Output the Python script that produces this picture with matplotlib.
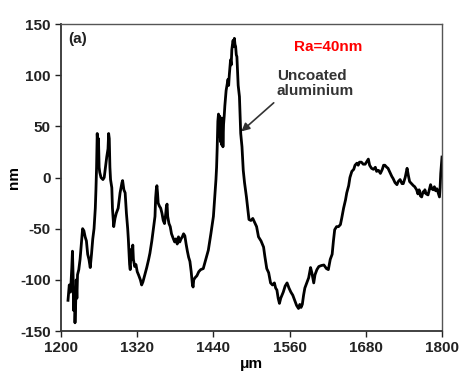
import numpy as np
import matplotlib
matplotlib.use("Agg")
import matplotlib.pyplot as plt

plt.rcParams['font.family'] = ['Liberation Sans', 'DejaVu Sans']
plt.rcParams['font.weight'] = 'bold'
plt.rcParams['axes.unicode_minus'] = False

# profile (um, nm)
x_um = [1211, 1213, 1215, 1217, 1218, 1219, 1220, 1221, 1222, 1223, 1224, 1225, 1226, 1228,
        1230, 1232, 1234, 1236, 1238, 1240, 1242, 1244, 1246, 1248, 1250, 1252, 1254, 1255,
        1256, 1257, 1258, 1259, 1260, 1261, 1263, 1266, 1268, 1270, 1272, 1274, 1275, 1276,
        1277, 1278, 1280, 1281, 1283, 1285, 1287, 1290, 1293, 1296, 1297, 1299, 1301, 1303,
        1305, 1306, 1308, 1309, 1310, 1311, 1312, 1313, 1314, 1316, 1318, 1320, 1322, 1325,
        1327, 1329, 1332, 1335, 1338, 1340, 1343, 1346, 1348, 1349, 1350, 1351, 1352, 1353,
        1355, 1357, 1359, 1361, 1363, 1365, 1366, 1367, 1368, 1370, 1372, 1374, 1377, 1379,
        1381, 1383, 1385, 1387, 1389, 1391, 1393, 1395, 1397, 1399, 1401, 1403, 1405, 1407,
        1408, 1409, 1411, 1414, 1417, 1420, 1424, 1428, 1432, 1436, 1440, 1442, 1444, 1445,
        1446, 1447, 1448, 1449, 1450, 1451, 1452, 1453, 1454, 1455, 1456, 1457, 1458, 1460,
        1462, 1463, 1464, 1465, 1466, 1467, 1468, 1469, 1470, 1471, 1472, 1473, 1474, 1475,
        1476, 1477, 1478, 1479, 1481, 1482, 1483, 1485, 1487, 1489, 1492, 1494, 1496, 1499,
        1502, 1505, 1508, 1511, 1515, 1519, 1521, 1524, 1527, 1530, 1533, 1536, 1538, 1540,
        1542, 1544, 1546, 1548, 1550, 1553, 1556, 1559, 1562, 1565, 1568, 1571, 1574, 1576,
        1578, 1580, 1582, 1584, 1587, 1590, 1593, 1595, 1598, 1600, 1603, 1606, 1610, 1614,
        1618, 1621, 1624, 1627, 1629, 1631, 1634, 1637, 1640, 1642, 1645, 1648, 1650, 1653,
        1655, 1658, 1661, 1663, 1666, 1668, 1670, 1673, 1676, 1679, 1681, 1684, 1686, 1689,
        1692, 1695, 1697, 1700, 1703, 1706, 1708, 1710, 1713, 1715, 1718, 1721, 1723, 1726,
        1729, 1731, 1734, 1737, 1739, 1742, 1744, 1745, 1747, 1749, 1752, 1755, 1757, 1760,
        1762, 1764, 1766, 1768, 1770, 1772, 1773, 1775, 1778, 1780, 1782, 1784, 1786, 1788,
        1790, 1792, 1794, 1796, 1797, 1798, 1799, 1800]
h_nm = [-120, -105, -112, -88, -72, -95, -130, -110, -142, -125, -100, -118, -95, -90,
        -80, -65, -50, -52, -58, -62, -75, -80, -88, -75, -60, -50, -30, -12,
        10, 43, 30, 38, 10, 5, 0, -2, 0, 10, 20, 28, 43, 38,
        10, -2, -10, -30, -48, -40, -35, -30, -15, -5, -3, -12, -15, -35,
        -50, -60, -85, -90, -75, -70, -80, -66, -80, -87, -85, -92, -95, -100,
        -105, -102, -95, -88, -80, -74, -62, -48, -38, -20, -12, -8, -15, -25,
        -28, -30, -35, -42, -45, -35, -28, -26, -38, -45, -48, -55, -60, -63,
        -60, -65, -58, -63, -60, -58, -55, -57, -65, -72, -78, -82, -92, -105,
        -107, -100, -98, -96, -92, -90, -89, -80, -71, -55, -38, -20, -2, 10,
        30, 55, 62, 40, 60, 35, 55, 32, 58, 30, 52, 60, 70, 85,
        92, 96, 90, 100, 108, 115, 110, 125, 130, 134, 128, 136, 130, 128,
        120, 118, 105, 90, 79, 60, 43, 30, 7, -5, -19, -30, -41, -42,
        -40, -44, -48, -58, -62, -68, -77, -89, -93, -103, -105, -103, -108, -110,
        -118, -123, -118, -115, -112, -106, -103, -108, -112, -115, -120, -125, -128, -124,
        -127, -124, -115, -108, -103, -98, -88, -93, -103, -95, -90, -87, -86, -85.5,
        -89, -90, -80, -75, -62, -51, -48, -48, -46, -40, -30, -22, -15, -8,
        0, 6, 8, 12, 14, 12, 15, 15, 13, 13, 15, 18, 12, 9,
        8, 10, 6, 7, 4, 8, 12, 12, 10, 9, 5, 1, -1, -5,
        -7, -4, -2, -6, -6, 0, 6, 9, 2, -4, -6, -8, -9, -12,
        -16, -12, -18, -19, -14, -15, -12, -16, -17, -12, -7, -11, -12, -9,
        -13, -11, -15, -19, -10, 4, 12, 20]

x_ticks = [1200, 1320, 1440, 1560, 1680, 1800]
y_ticks = [-150, -100, -50, 0, 50, 100, 150]

fig = plt.figure(figsize=(4.64, 3.71), dpi=100)
ax = fig.add_axes([0.1315, 0.1078, 0.8211, 0.8275])

ax.plot(x_um, h_nm, color='black', lw=2.0)

ax.set_xlim(1200, 1800)
ax.set_ylim(-150, 150)
ax.set_xticks(x_ticks)
ax.set_yticks(y_ticks)
ax.tick_params(direction='out', length=4, width=1, labelsize=11, colors='#222222')

for side in ['left', 'bottom']:
    ax.spines[side].set_linewidth(1.3)
    ax.spines[side].set_color('#333333')
for side in ['top', 'right']:
    ax.spines[side].set_linewidth(1.0)
    ax.spines[side].set_color('#555555')

ax.set_xlabel('μm', fontsize=11, fontweight='bold', labelpad=1)
ax.set_ylabel('nm', fontsize=11, fontweight='bold')
ax.yaxis.set_label_coords(-0.105, 0.5)

ax.text(0.02, 0.975, '(a)', transform=ax.transAxes, fontsize=11,
        fontweight='bold', color='#222222', va='top', ha='left')
ax.text(0.70, 0.925, 'Ra=40nm', transform=ax.transAxes, fontsize=11,
        fontweight='bold', color='red', va='center', ha='center')

ax.text(1540, 106, 'Uncoated\naluminium', fontsize=11, fontweight='bold',
        color='#333333', ha='left', va='top', linespacing=1.05)
ax.annotate('', xy=(1484, 45), xytext=(1535, 73),
            arrowprops=dict(arrowstyle='-|>', color='#333333', lw=1.2,
                            mutation_scale=12, shrinkA=0, shrinkB=0))

fig.savefig('out.png', dpi=100)
